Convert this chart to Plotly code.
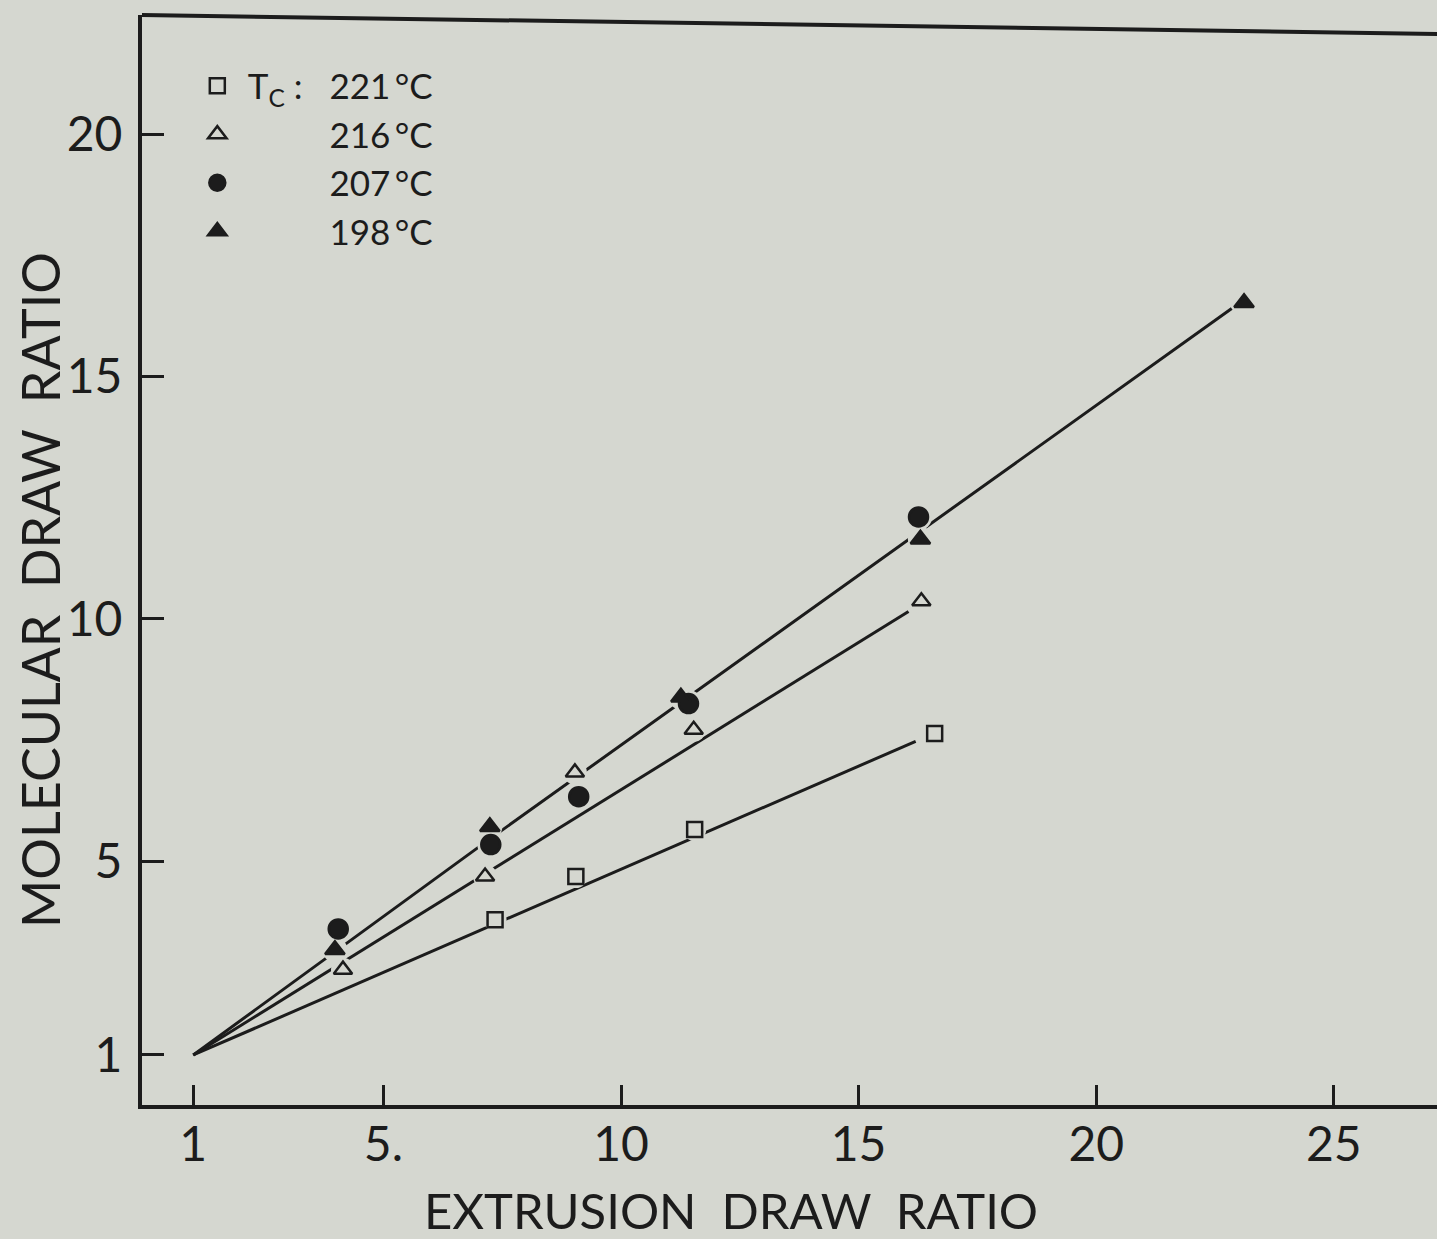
import plotly.graph_objects as go

# ---------------- data ----------------
x_221 = [7.35, 9.05, 11.55, 16.6]
y_221 = [3.79, 4.68, 5.65, 7.63]

x_216 = [4.15, 7.14, 9.03, 11.53, 16.32]
y_216 = [2.76, 4.68, 6.83, 7.71, 10.36]

x_207 = [4.05, 7.26, 9.11, 11.42, 16.26]
y_207 = [3.60, 5.34, 6.33, 8.25, 12.10]

x_198 = [3.98, 7.24, 11.26, 16.30, 23.11]
y_198 = [3.17, 5.71, 8.38, 11.64, 16.52]

# fitted lines drawn in the figure
fit_221_x = [1, 16.2]
fit_221_y = [1, 7.47]
fit_216_x = [1, 16.05]
fit_216_y = [1, 10.15]
fit_high_x = [1, 7.3, 22.85]
fit_high_y = [1, 5.5, 16.4]

x_tickvals = [1, 5, 10, 15, 20, 25]
x_ticktext = ["1", "5.", "10", "15", "20", "25"]
y_tickvals = [1, 5, 10, 15, 20]
y_ticktext = ["1", "5", "10", "15", "20"]

BG = "#d5d7d0"
INK = "#1c1c1c"
FONT = "Lato"

prefix = "T<sub>C</sub> :\u00a0\u00a0\u00a0"
legend_names = [
    prefix + "221\u2009°C",
    "<span style='color:%s'>%s</span>216\u2009°C" % (BG, prefix),
    "<span style='color:%s'>%s</span>207\u2009°C" % (BG, prefix),
    "<span style='color:%s'>%s</span>198\u2009°C" % (BG, prefix),
]

fig = go.Figure()

# lines
for fx, fy in [(fit_221_x, fit_221_y), (fit_216_x, fit_216_y), (fit_high_x, fit_high_y)]:
    fig.add_trace(go.Scatter(x=fx, y=fy, mode="lines",
                             line=dict(color=INK, width=3),
                             showlegend=False, hoverinfo="skip"))

series = [
    (x_221, y_221, "square-open", 15, legend_names[0]),
    (x_216, y_216, "triangle-up-open", 16, legend_names[1]),
    (x_207, y_207, "circle", 19, legend_names[2]),
    (x_198, y_198, "triangle-up", 17, legend_names[3]),
]

# halos to break lines near markers
for sx, sy, sym, sz, nm in series:
    fig.add_trace(go.Scatter(x=sx, y=sy, mode="markers",
                             marker=dict(symbol="circle", size=sz + 8, color=BG,
                                         line=dict(width=0)),
                             showlegend=False, hoverinfo="skip"))

for sx, sy, sym, sz, nm in series:
    fig.add_trace(go.Scatter(x=sx, y=sy, mode="markers", name=nm,
                             marker=dict(symbol=sym, size=sz, color=INK,
                                         line=dict(color=INK, width=2.5))))

fig.update_layout(
    width=1437, height=1239,
    paper_bgcolor=BG, plot_bgcolor=BG,
    margin=dict(l=142, r=0, t=15, b=134),
    font=dict(family=FONT, color=INK, size=48),
    showlegend=True,
    legend=dict(x=0.0346, y=0.962, xanchor="left", yanchor="top",
                bgcolor="rgba(0,0,0,0)", font=dict(size=35, family=FONT, color=INK),
                itemwidth=51, tracegroupgap=0),
    xaxis=dict(range=[-0.079, 27.17], showgrid=False, zeroline=False,
               showline=True, linecolor=INK, linewidth=4,
               ticks="inside", ticklen=20, tickwidth=3, tickcolor=INK,
               tickvals=x_tickvals, ticktext=x_ticktext,
               tickfont=dict(size=48, family=FONT, color=INK),
               ticklabelstandoff=-6),
    yaxis=dict(range=[-0.032, 22.456], showgrid=False, zeroline=False,
               showline=True, linecolor=INK, linewidth=4,
               ticks="inside", ticklen=22, tickwidth=3, tickcolor=INK,
               tickvals=y_tickvals, ticktext=y_ticktext,
               tickfont=dict(size=48, family=FONT, color=INK),
               ticklabelstandoff=6),
    annotations=[
        dict(text="EXTRUSION  DRAW  RATIO", xref="paper", yref="paper",
             x=0.4548, y=-0.0965, showarrow=False,
             font=dict(size=49, family=FONT, color=INK),
             xanchor="center", yanchor="middle"),
        dict(text="MOLECULAR  DRAW  RATIO", xref="paper", yref="paper",
             x=-0.0788, y=0.4725, showarrow=False, textangle=-90,
             font=dict(size=52, family=FONT, color=INK),
             xanchor="center", yanchor="middle"),
    ],
    shapes=[
        dict(type="line", xref="paper", yref="paper", x0=0, y0=1.0, x1=1, y1=0.9826,
             line=dict(color=INK, width=4)),
    ],
)

fig.write_html("out.html", config={"displayModeBar": False},
               post_script="document.body.style.margin='0';document.body.style.background='%s';" % BG)
